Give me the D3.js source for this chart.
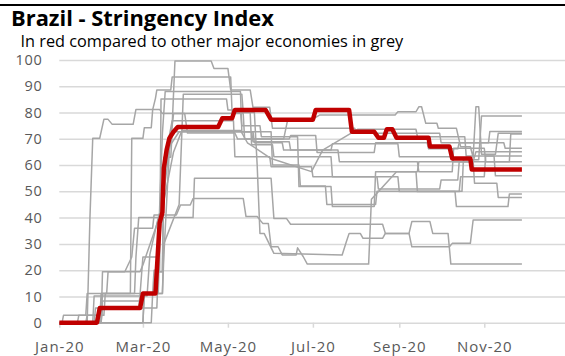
<!DOCTYPE html>
<html>
<head>
<meta charset="utf-8">
<script src="https://cdn.jsdelivr.net/npm/d3@7"></script>
<style>
  body { margin: 0; background: #fff; }
  svg { display: block; }
</style>
</head>
<body>
<svg id="chart" width="565" height="356"></svg>
<script>
// Axis ticks
const yTicks = [0, 10, 20, 30, 40, 50, 60, 70, 80, 90, 100];
const xTickDates = ["2020-01-01", "2020-03-01", "2020-05-01", "2020-07-01", "2020-09-01", "2020-11-01"];
const xTickLabels = ["Jan-20", "Mar-20", "May-20", "Jul-20", "Sep-20", "Nov-20"];

// Stringency index, [date (MM-DD, 2020), value] at each corner of the step line
const brazil = [
  ["01-01", 0], ["01-28", 0], ["01-30", 5.56], ["02-28", 5.56], ["03-01", 11.11], ["03-10", 11.11],
  ["03-13", 38], ["03-15", 42], ["03-16", 58.8], ["03-18", 65.7], ["03-20", 70.2], ["03-23", 72.7],
  ["03-26", 74.5], ["04-24", 74.5], ["04-27", 77.8], ["05-04", 77.8], ["05-06", 81], ["05-28", 81],
  ["06-01", 77.3], ["07-01", 77.3], ["07-03", 81], ["07-27", 81], ["07-29", 72.7], ["08-14", 72.7],
  ["08-17", 70.4], ["08-21", 70.4], ["08-23", 73.6], ["08-27", 73.6], ["08-30", 70.4], ["09-22", 70.4],
  ["09-23", 67.1], ["10-07", 67.1], ["10-09", 62.5], ["10-22", 62.5], ["10-23", 58.3], ["11-28", 58.3]
];

const china = [
  ["01-01", 0], ["01-21", 0], ["01-23", 40], ["01-25", 70.2], ["01-30", 70.2], ["02-02", 77.4],
  ["02-05", 77.4], ["02-08", 75.5], ["02-23", 75.5], ["02-25", 81.2], ["03-13", 81.2], ["03-15", 79.6],
  ["03-31", 79.6], ["04-02", 72.2], ["05-06", 72.2], ["05-08", 69.9], ["06-10", 69.9], ["06-13", 77.5],
  ["07-01", 77.5], ["07-06", 79.1], ["08-29", 79.1], ["08-31", 80.3], ["09-13", 80.3], ["09-15", 82.2],
  ["09-17", 82.2], ["09-20", 75.9], ["09-28", 75.9], ["09-29", 74], ["10-12", 74], ["10-15", 67],
  ["10-22", 67], ["10-24", 63], ["10-26", 82.2], ["10-28", 82.2], ["10-30", 64.1], ["11-09", 64.1],
  ["11-11", 72.1], ["11-28", 72.1]
];
const india = [
  ["01-01", 0], ["01-25", 0], ["01-26", 10.2], ["03-04", 10.2], ["03-06", 26], ["03-12", 40],
  ["03-15", 45], ["03-19", 62], ["03-22", 75], ["03-24", 99.6], ["04-19", 99.6], ["04-21", 96.8],
  ["05-01", 96.8], ["05-03", 88.6], ["05-17", 88.6], ["05-19", 82], ["05-31", 82], ["06-02", 74],
  ["07-31", 74], ["08-01", 72.1], ["09-30", 72.1], ["10-01", 68.5], ["11-15", 68.5], ["11-16", 66.4],
  ["11-28", 66.4]
];
const italy = [
  ["01-01", 0], ["01-30", 0], ["01-31", 11.1], ["02-21", 11.1], ["02-22", 70.2], ["03-01", 70.2],
  ["03-02", 74.2], ["03-07", 74.2], ["03-08", 81], ["03-10", 85.4], ["03-11", 88.6], ["03-21", 88.6],
  ["03-22", 93.5], ["05-03", 93.5], ["05-04", 80], ["05-17", 80], ["05-18", 67.7], ["06-02", 67.7],
  ["06-03", 63.2], ["07-14", 63.2], ["07-15", 55.6], ["08-16", 55.6], ["08-17", 50.9], ["09-30", 50.9],
  ["10-01", 54.3], ["10-13", 54.3], ["10-14", 61.3], ["10-24", 61.3], ["10-26", 65.1], ["11-28", 65.1]
];
const france = [
  ["01-01", 0], ["01-31", 0], ["02-01", 5.6], ["02-27", 5.6], ["02-28", 11.1], ["03-01", 25],
  ["03-12", 25], ["03-13", 43.6], ["03-15", 72], ["03-17", 88], ["05-10", 88], ["05-11", 72.7],
  ["06-01", 72.7], ["06-02", 60], ["06-21", 60], ["06-22", 52], ["07-10", 52], ["07-11", 45],
  ["08-15", 45], ["08-16", 50], ["10-16", 50], ["10-17", 62], ["10-28", 62], ["10-30", 78.7],
  ["11-28", 78.7]
];
const uk = [
  ["01-01", 0], ["03-01", 0], ["03-02", 11.1], ["03-15", 11.1], ["03-16", 25], ["03-20", 66],
  ["03-23", 79.6], ["05-12", 79.6], ["05-13", 69.9], ["06-14", 69.9], ["06-15", 71.3], ["07-03", 71.3],
  ["07-04", 64.8], ["08-14", 64.8], ["08-15", 68.5], ["09-21", 68.5], ["09-22", 66.2], ["10-13", 66.2],
  ["10-14", 68.5], ["11-04", 68.5], ["11-05", 72.8], ["11-28", 72.8]
];
const usa = [
  ["01-01", 0], ["01-20", 0], ["01-21", 2.8], ["02-02", 2.8], ["02-03", 11.1], ["03-09", 11.1],
  ["03-10", 19.4], ["03-15", 19.4], ["03-16", 55], ["03-20", 67], ["03-27", 72.7], ["05-19", 72.7],
  ["05-20", 68.5], ["06-09", 68.5], ["06-10", 65.7], ["07-14", 65.7], ["07-15", 68.1], ["08-31", 68.1],
  ["09-01", 63.2], ["10-09", 63.2], ["10-10", 61.3], ["11-19", 61.3], ["11-20", 71.8], ["11-28", 71.8]
];
const germany = [
  ["01-01", 0], ["03-01", 0], ["03-02", 11.1], ["03-12", 11.1], ["03-13", 30], ["03-16", 60],
  ["03-22", 76.9], ["05-05", 76.9], ["05-06", 63.2], ["05-31", 63.2], ["06-01", 59.4], ["06-30", 59.4],
  ["07-01", 55.6], ["08-31", 55.6], ["09-01", 49.9], ["10-14", 49.9], ["10-15", 55.6], ["11-01", 55.6],
  ["11-02", 63.5], ["11-28", 63.5]
];
const spain = [
  ["01-01", 0], ["03-07", 0], ["03-08", 11.1], ["03-09", 20], ["03-13", 20], ["03-14", 85.2],
  ["04-30", 85.2], ["05-01", 81], ["05-10", 81], ["05-11", 75], ["05-24", 75], ["05-25", 70.8],
  ["06-20", 70.8], ["06-21", 51.8], ["07-14", 51.8], ["07-15", 44.2], ["08-14", 44.2], ["08-15", 57.5],
  ["09-14", 57.5], ["09-15", 61.3], ["10-24", 61.3], ["10-25", 53.1], ["11-10", 53.1], ["11-11", 47.7],
  ["11-28", 47.7]
];
const canada = [
  ["01-01", 0], ["01-26", 0], ["01-27", 5.6], ["03-11", 5.6], ["03-12", 19.4], ["03-15", 19.4],
  ["03-16", 63], ["03-21", 63], ["03-22", 72.7], ["05-18", 72.7], ["05-19", 68.9], ["06-14", 68.9],
  ["06-15", 65.7], ["07-19", 65.7], ["07-20", 61.3], ["09-14", 61.3], ["09-15", 57.5], ["10-09", 57.5],
  ["10-10", 66.4], ["11-01", 66.4], ["11-02", 61.3], ["11-28", 61.3]
];
const korea = [
  ["01-01", 0], ["01-03", 0], ["01-04", 2.8], ["01-20", 2.8], ["01-21", 11.1], ["02-04", 11.1],
  ["02-05", 19.4], ["02-17", 19.4], ["02-22", 25], ["02-24", 36], ["03-08", 36], ["03-09", 41],
  ["03-25", 41], ["03-28", 44.8], ["04-04", 44.8], ["04-06", 47.3], ["05-12", 47.3], ["05-14", 40.4],
  ["05-22", 40.4], ["05-26", 37.8], ["05-30", 37.8], ["06-01", 28.9], ["06-06", 28.9], ["06-09", 25.8],
  ["06-19", 25.8], ["06-20", 28.5], ["06-24", 25.2], ["06-27", 22.3], ["08-10", 22.3], ["08-12", 47],
  ["08-30", 57.5], ["09-13", 57.5], ["09-14", 49.9], ["10-11", 49.9], ["10-12", 44.2], ["11-18", 44.2],
  ["11-19", 49], ["11-28", 49]
];
const japan = [
  ["01-01", 0], ["01-14", 0], ["01-15", 2.8], ["01-31", 2.8], ["02-01", 11.1], ["02-24", 11.1],
  ["02-25", 25], ["02-27", 40], ["04-06", 40], ["04-07", 55], ["06-01", 55], ["06-03", 39.7],
  ["06-12", 39.7], ["06-15", 37.5], ["08-20", 37.5], ["08-22", 34], ["09-08", 34], ["09-10", 38.5],
  ["09-23", 38.5], ["09-25", 34], ["10-06", 34], ["10-08", 22.3], ["11-28", 22.3]
];
const russia = [
  ["01-01", 0], ["01-31", 0], ["02-01", 8.3], ["02-29", 8.3], ["03-01", 11.1], ["03-15", 11.1],
  ["03-16", 30], ["03-27", 45], ["03-30", 87], ["05-11", 87], ["05-12", 80], ["05-20", 80],
  ["05-22", 60], ["05-24", 34], ["05-27", 34], ["06-03", 26.4], ["07-22", 25.8], ["07-25", 30.8],
  ["07-27", 34], ["08-04", 34], ["08-06", 32.1], ["08-20", 32.1], ["08-22", 34], ["09-08", 34],
  ["09-10", 28.9], ["10-07", 28.9], ["10-09", 30.2], ["10-22", 30.2], ["10-24", 39.1], ["11-28", 39.1]
];
const australia = [
  ["01-01", 0], ["01-31", 0], ["02-01", 19.4], ["02-28", 19.4], ["03-01", 22], ["03-15", 43.6],
  ["03-23", 65], ["03-29", 73.2], ["05-10", 73.2], ["05-15", 68.5], ["06-01", 62.5], ["06-30", 57.5],
  ["07-08", 65.7], ["08-02", 73.6], ["09-13", 73.6], ["09-14", 70.8], ["10-18", 70.8], ["10-19", 63.5],
  ["11-08", 63.5], ["11-09", 55.9], ["11-28", 55.9]
];

const otherEconomies = [china, india, italy, france, uk, usa, germany, spain, canada, korea, japan, russia, australia];

const title = "Brazil - Stringency Index";
const subtitle = "In red compared to other major economies in grey";

// Layout
const svg = d3.select("#chart");
const plotLeft = 59.3, yZero = 322.7, yTop = 60;

const parseDay = d => d3.timeParse("%Y-%m-%d")("2020-" + d);
const x = d3.scaleTime()
  .domain([new Date(2020, 0, 1), new Date(2021, 0, 1)])
  .range([plotLeft, plotLeft + 366 * 1.3934]);
const y = d3.scaleLinear().domain([0, 100]).range([yZero, yTop]);

// Top rule
svg.append("line")
  .attr("x1", 0).attr("x2", 565).attr("y1", 5).attr("y2", 5)
  .attr("stroke", "#000").attr("stroke-width", 2);

// Title and subtitle, sized to their measured widths
function fitText(sel, width) {
  const w = sel.node().getComputedTextLength();
  const fs = parseFloat(sel.attr("font-size"));
  sel.attr("font-size", fs * width / w);
}
const t = svg.append("text")
  .attr("x", 11).attr("y", 26.3)
  .attr("font-family", "'Open Sans', sans-serif").attr("font-weight", 700)
  .attr("font-size", 19).attr("fill", "#000").text(title);
fitText(t, 263);
const st = svg.append("text")
  .attr("x", 20.5).attr("y", 47.4)
  .attr("font-family", "'Open Sans', sans-serif")
  .attr("font-size", 14.5).attr("fill", "#000").text(subtitle);
fitText(st, 383);

// Horizontal gridlines
svg.append("g")
  .attr("transform", `translate(${plotLeft},0)`)
  .call(d3.axisRight(y).tickValues(yTicks).tickSize(565 - plotLeft).tickFormat(""))
  .call(g => g.select(".domain").remove())
  .call(g => g.selectAll("line").attr("stroke", "#d9d9d9").attr("stroke-width", 1.5));

// Y labels
svg.append("g")
  .attr("transform", `translate(${plotLeft},0)`)
  .call(d3.axisLeft(y).tickValues(yTicks).tickSize(0).tickPadding(17))
  .call(g => g.select(".domain").remove())
  .call(g => g.selectAll("text")
    .attr("font-family", "'Open Sans', sans-serif").attr("font-size", 14.5)
    .attr("letter-spacing", 0.6).attr("fill", "#595959"));

// X axis ticks and labels
svg.append("g")
  .attr("transform", `translate(0,${yZero})`)
  .call(d3.axisBottom(x).tickValues(xTickDates.map(d => new Date(d + "T00:00")))
    .tickFormat((d, i) => xTickLabels[i]).tickSize(5))
  .call(g => g.select(".domain").remove())
  .call(g => g.selectAll("line").attr("stroke", "#d9d9d9").attr("stroke-width", 1.5))
  .call(g => g.selectAll("text")
    .attr("y", 29.5).attr("dy", 0)
    .attr("font-family", "'Open Sans', sans-serif").attr("font-size", 15)
    .attr("letter-spacing", 1).attr("fill", "#595959"));

// Series: other economies in grey, Brazil on top in red
const line = d3.line().x(d => x(parseDay(d[0]))).y(d => y(d[1]));

svg.append("g").selectAll("path")
  .data(otherEconomies).join("path")
  .attr("d", line)
  .attr("fill", "none").attr("stroke", "#a6a6a6").attr("stroke-width", 1.5)
  .attr("stroke-linejoin", "round");

svg.append("path")
  .datum(brazil)
  .attr("d", line)
  .attr("fill", "none").attr("stroke", "#c00000").attr("stroke-width", 4.5)
  .attr("stroke-linejoin", "round");
</script>
</body>
</html>
